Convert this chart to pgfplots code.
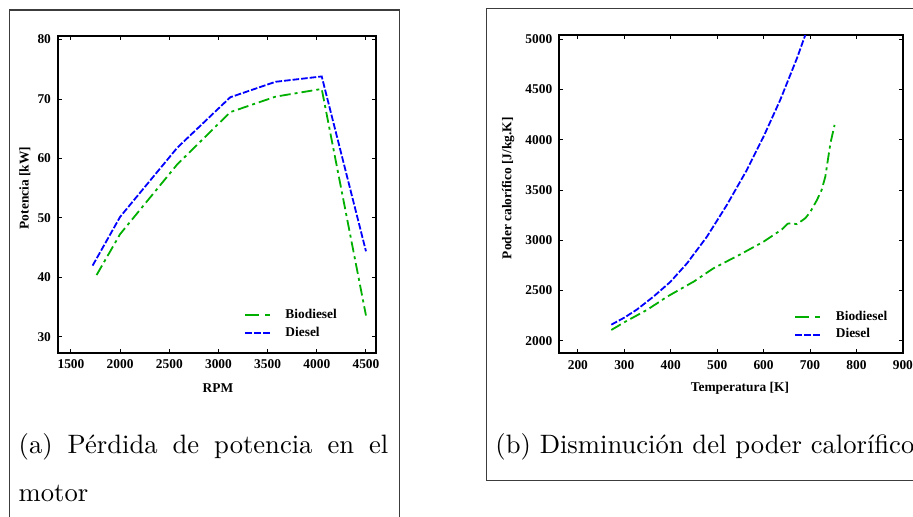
\documentclass[border=0pt]{standalone}
\usepackage{fontspec}
\usepackage{pgfplots}
\pgfplotsset{compat=1.18}
\newfontfamily\tnr{Liberation Serif}
\newfontfamily\capfont{lmroman10-regular.otf}
\newcommand\af{\tnr\bfseries\fontsize{6.7pt}{8pt}\selectfont}
\newcommand\cf{\capfont\fontsize{13.3pt}{15pt}\selectfont}
\definecolor{bgreen}{RGB}{0,175,0}
\definecolor{bblue}{RGB}{0,0,255}
\definecolor{framec}{RGB}{60,60,60}
\pgfplotsset{
  myaxis/.style={
    scale only axis,
    axis line style={line width=0.9pt},
    tick style={line width=0.5pt,black},
    major tick length=2pt,
    tick align=inside,
    xtick pos=both, ytick pos=both,
    minor tick num=0,
    scaled ticks=false,
    /pgf/number format/1000 sep={},
    /pgf/number format/assume math mode=true,
    ticklabel style={font=\af},
    label style={font=\af},
    legend style={draw=none,fill=none,font=\af,row sep=-1.2pt,
      /tikz/every odd column/.append style={column sep=5.3pt}},
    legend cell align=left,
    legend image code/.code={\draw[##1] (0pt,0pt) -- (12.5pt,0pt);},
    clip=true,
  },
  bio/.style={bgreen,line width=0.9pt,dash pattern=on 5.5pt off 2pt on 1.5pt off 2pt,
    legend image post style={dash pattern=on 7pt off 3pt on 2.5pt off 5pt}},
  dsl/.style={bblue,line width=0.9pt,dash pattern=on 3.3pt off 1pt,
    legend image post style={dash pattern=on 3.5pt off 1pt}},
}
\begin{document}
\begin{tikzpicture}
\path[use as bounding box] (0,0) rectangle (456.5pt,258pt);
\begin{scope}
\clip (0,0) rectangle (456.5pt,258pt);
% frames
\draw[framec,line width=0.55pt] (4.75pt,-10pt) rectangle (199.75pt,253pt);
\draw[framec,line width=0.65pt] (243.25pt,17.75pt) rectangle (470pt,253.75pt);
% left axis
\begin{axis}[myaxis,
  at={(29pt,81.5pt)}, anchor=south west,
  width=159pt, height=158.5pt,
  xmin=1368, xmax=4602, ymin=27.3, ymax=80.6,
  xtick={1500,2000,2500,3000,3500,4000,4500},
  ytick={30,40,50,60,70,80},
  xlabel={RPM}, ylabel={Potencia [kW]},
  xlabel style={at={(axis description cs:0.503,-0.110)},anchor=center},
  ylabel style={at={(axis description cs:-0.104,0.52)},anchor=center},
  legend style={at={(axis description cs:0.565,0.165)},anchor=north west},
]
\addplot[bio] coordinates {(1760,40.4) (2000,47.3) (2580,59) (3120,67.8) (3580,70.4) (4050,71.7) (4500,33.6)};
\addlegendentry{Biodiesel}
\addplot[dsl] coordinates {(1720,42) (2000,50.2) (2580,61.8) (3120,70.3) (3580,72.9) (4050,73.8) (4500,44.4)};
\addlegendentry{Diesel}
\end{axis}
% right axis
\begin{axis}[myaxis,
  at={(279.65pt,81.35pt)}, anchor=south west,
  width=172pt, height=159.15pt,
  xmin=160, xmax=901, ymin=1875, ymax=5043,
  xtick={200,300,400,500,600,700,800,900},
  ytick={2000,2500,3000,3500,4000,4500,5000},
  xlabel={Temperatura [K]}, ylabel={Poder calorífico [J/kg.K]},
  xlabel style={at={(axis description cs:0.525,-0.109)},anchor=center},
  ylabel style={at={(axis description cs:-0.149,0.519)},anchor=center},
  legend style={at={(axis description cs:0.665,0.16)},anchor=north west},
]
\addplot[bio] coordinates {(272,2107) (300,2184) (350,2310) (392,2438) (450,2590) (492,2721) (550,2860) (600,2986) (640,3110) (652,3165) (660,3170) (672,3160) (690,3220) (701,3285) (715,3401) (725,3500) (733,3633) (744,3966) (753,4148)};
\addlegendentry{Biodiesel}
\addplot[dsl] coordinates {(272,2160) (300,2230) (327,2310) (363,2440) (399,2585) (435,2770) (478,3036) (521,3352) (564,3700) (600,4032) (636,4398) (672,4813) (690,5045) (700,5200)};
\addlegendentry{Diesel}
\end{axis}
% captions
\node[anchor=base west,inner sep=0pt,font=\cf] at (9.15pt,31.5pt) {\makebox[184.85pt][s]{(a) Pérdida de potencia en el}};
\node[anchor=base west,inner sep=0pt,font=\cf] at (9.15pt,7.15pt) {motor};
\node[anchor=base west,inner sep=0pt,font=\cf] at (247.5pt,31.5pt) {(b) Disminución del poder calorífico};
\end{scope}
\end{tikzpicture}
\end{document}
